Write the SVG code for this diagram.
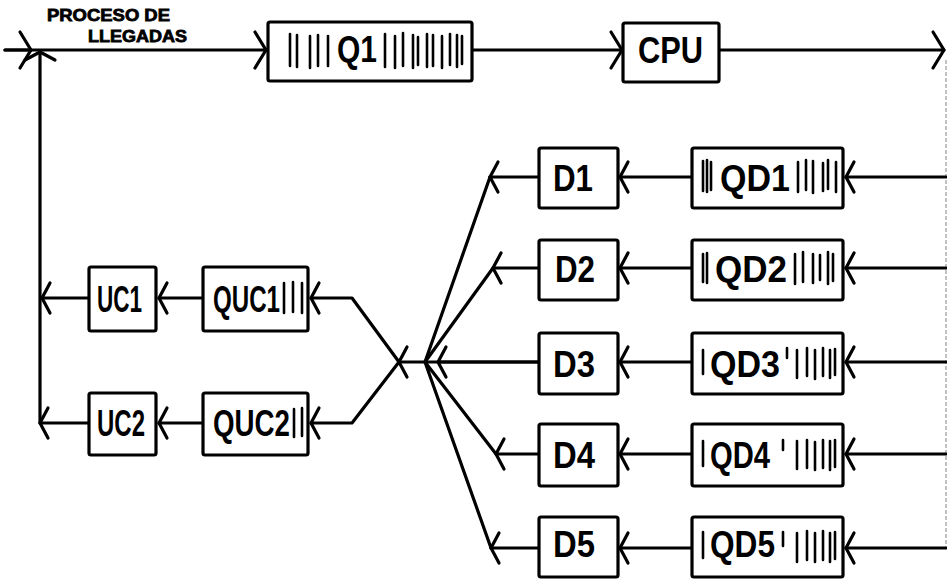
<svg xmlns="http://www.w3.org/2000/svg" width="947" height="579" viewBox="0 0 947 579">
<defs>
<style>
.c{fill:none;stroke:#000;stroke-width:3.2;stroke-linecap:round;stroke-linejoin:round}
.box{fill:#fff;stroke:#000;stroke-width:3.2}
.bar{fill:none;stroke:#000;stroke-width:2.6;stroke-linecap:round}
.t{font-family:"Liberation Sans",Arial,sans-serif;font-weight:bold;font-size:36px;fill:#000}
.s{font-family:"Liberation Sans",Arial,sans-serif;font-weight:900;font-size:17px;fill:#000;stroke:#000;stroke-width:0.8}
.edge{fill:none;stroke:#999;stroke-width:1.2;stroke-dasharray:4 2}
</style>
<marker id="a" markerUnits="userSpaceOnUse" orient="auto" refX="0" refY="0" markerWidth="30" markerHeight="40" viewBox="-14 -20 18 40" overflow="visible">
<path d="M-8,-15 L0,0 L-8,15" fill="none" stroke="#000" stroke-width="3.2" stroke-linecap="round" stroke-linejoin="round"/>
</marker>
<marker id="b" markerUnits="userSpaceOnUse" orient="auto" refX="0" refY="0" markerWidth="30" markerHeight="44" viewBox="-14 -22 18 44" overflow="visible">
<path d="M-11,-18 L0,0 L-11,18" fill="none" stroke="#000" stroke-width="3.2" stroke-linecap="round" stroke-linejoin="round"/>
</marker>
</defs>
<rect width="947" height="579" fill="#fff"/>

<g id="connectors">
<path class="c" d="M5,50 H266" marker-end="url(#b)"/>
<path class="c" d="M5,50 H31" marker-end="url(#b)"/>
<path class="c" d="M40,422 V52" marker-end="url(#a)"/>
<path class="c" d="M472,50 H622" marker-end="url(#b)"/>
<path class="c" d="M719,50 H944" marker-end="url(#b)"/>
<path class="edge" d="M946,60 V548"/>
<path class="c" d="M946,177 H846" marker-end="url(#a)"/>
<path class="c" d="M946,268 H846" marker-end="url(#a)"/>
<path class="c" d="M946,362 H846" marker-end="url(#a)"/>
<path class="c" d="M946,454 H846" marker-end="url(#a)"/>
<path class="c" d="M946,548 H846" marker-end="url(#a)"/>
<path class="c" d="M692,177 H620" marker-end="url(#a)"/>
<path class="c" d="M692,268 H620" marker-end="url(#a)"/>
<path class="c" d="M692,362 H620" marker-end="url(#a)"/>
<path class="c" d="M692,454 H620" marker-end="url(#a)"/>
<path class="c" d="M692,548 H620" marker-end="url(#a)"/>
<path class="c" d="M539,177 H490" marker-end="url(#a)"/>
<path class="c" d="M490,177 L425,362"/>
<path class="c" d="M539,268 H493" marker-end="url(#a)"/>
<path class="c" d="M493,268 L425,362"/>
<path class="c" d="M539,362 H425"/>
<path class="c" d="M539,362 H438" marker-end="url(#a)"/>
<path class="c" d="M539,454 H496" marker-end="url(#a)"/>
<path class="c" d="M496,454 L425,362"/>
<path class="c" d="M539,548 H491" marker-end="url(#a)"/>
<path class="c" d="M491,548 L425,362"/>
<path class="c" d="M425,362 H399" marker-end="url(#a)"/>
<path class="c" d="M399,362 L352,298 H311" marker-end="url(#a)"/>
<path class="c" d="M399,362 L352,423 H311" marker-end="url(#a)"/>
<path class="c" d="M203,298 H159" marker-end="url(#a)"/>
<path class="c" d="M89,298 H42" marker-end="url(#a)"/>
<path class="c" d="M203,423 H159" marker-end="url(#a)"/>
<path class="c" d="M89,423 H40" marker-end="url(#a)"/>
</g>

<g id="label-llegadas">
<text class="s" x="47" y="21" textLength="123" lengthAdjust="spacingAndGlyphs">PROCESO DE</text>
<text class="s" x="88" y="42" textLength="99" lengthAdjust="spacingAndGlyphs">LLEGADAS</text>
</g>

<g id="Q1">
<rect class="box" x="268" y="22" width="204" height="59" rx="2"/>
<path class="bar" d="M290,34V66 M297,35V67 M310,36V68 M318,35V66 M328,36V66 M385,34V67 M395,36V68 M403,33V66 M413,35V68 M418,37V65 M427,34V67 M433,35V66 M442,36V68 M450,34V65 M457,35V67 M462,36V64"/>
<text class="t" x="337" y="62" font-size="30" textLength="40" lengthAdjust="spacingAndGlyphs">Q1</text>
</g>

<g id="CPU">
<rect class="box" x="623" y="23" width="96" height="59" rx="2"/>
<text class="t" x="638" y="63" textLength="65" lengthAdjust="spacingAndGlyphs">CPU</text>
</g>

<g id="QD1">
<rect class="box" x="692" y="148" width="151" height="60" rx="2"/>
<path class="bar" d="M703,161V191 M707,160V192 M711,162V190 M798,162V192 M806,160V190 M813,161V193 M823,163V191 M828,160V189 M836,162V192"/>
<text class="t" x="720" y="191" textLength="70" lengthAdjust="spacingAndGlyphs">QD1</text>
</g>
<g id="D1">
<rect class="box" x="539" y="148" width="79" height="60" rx="2"/>
<text class="t" x="553" y="191" textLength="40" lengthAdjust="spacingAndGlyphs">D1</text>
</g>

<g id="QD2">
<rect class="box" x="692" y="240" width="151" height="60" rx="2"/>
<path class="bar" d="M703,254V282 M707,253V283 M795,254V284 M803,252V282 M813,254V283 M820,255V280 M828,252V284 M833,254V281"/>
<text class="t" x="715" y="282" textLength="72" lengthAdjust="spacingAndGlyphs">QD2</text>
</g>
<g id="D2">
<rect class="box" x="539" y="240" width="79" height="60" rx="2"/>
<text class="t" x="555" y="282" textLength="40" lengthAdjust="spacingAndGlyphs">D2</text>
</g>

<g id="QD3">
<rect class="box" x="692" y="333" width="151" height="61" rx="2"/>
<path class="bar" d="M703,350V374 M787,348V358 M797,350V378 M807,348V376 M815,350V379 M823,348V376 M830,350V378 M835,349V375"/>
<text class="t" x="710" y="377" textLength="70" lengthAdjust="spacingAndGlyphs">QD3</text>
</g>
<g id="D3">
<rect class="box" x="539" y="333" width="79" height="61" rx="2"/>
<text class="t" x="553" y="377" textLength="42" lengthAdjust="spacingAndGlyphs">D3</text>
</g>

<g id="QD4">
<rect class="box" x="692" y="424" width="151" height="62" rx="2"/>
<path class="bar" d="M703,441V466 M783,440V450 M797,441V469 M807,440V468 M815,442V470 M823,440V468 M830,441V470 M835,440V467"/>
<text class="t" x="710" y="468" textLength="60" lengthAdjust="spacingAndGlyphs">QD4</text>
</g>
<g id="D4">
<rect class="box" x="539" y="424" width="79" height="62" rx="2"/>
<text class="t" x="553" y="468" textLength="42" lengthAdjust="spacingAndGlyphs">D4</text>
</g>

<g id="QD5">
<rect class="box" x="692" y="517" width="151" height="60" rx="2"/>
<path class="bar" d="M703,532V558 M783,532V546 M797,533V562 M807,531V560 M815,533V562 M823,531V560 M830,533V562 M835,532V559"/>
<text class="t" x="710" y="557" textLength="65" lengthAdjust="spacingAndGlyphs">QD5</text>
</g>
<g id="D5">
<rect class="box" x="539" y="517" width="79" height="60" rx="2"/>
<text class="t" x="553" y="557" textLength="42" lengthAdjust="spacingAndGlyphs">D5</text>
</g>

<g id="QUC1">
<rect class="box" x="203" y="267" width="105" height="64" rx="2"/>
<path class="bar" d="M284,283V313 M293,282V312 M302,283V313"/>
<text class="t" x="213" y="312" textLength="67" lengthAdjust="spacingAndGlyphs">QUC1</text>
</g>
<g id="UC1">
<rect class="box" x="89" y="267" width="67" height="64" rx="2"/>
<text class="t" x="97" y="312" textLength="45" lengthAdjust="spacingAndGlyphs">UC1</text>
</g>

<g id="QUC2">
<rect class="box" x="203" y="393" width="105" height="62" rx="2"/>
<path class="bar" d="M294,409V437 M302,408V436"/>
<text class="t" x="213" y="436" textLength="77" lengthAdjust="spacingAndGlyphs">QUC2</text>
</g>
<g id="UC2">
<rect class="box" x="89" y="393" width="67" height="62" rx="2"/>
<text class="t" x="97" y="436" textLength="48" lengthAdjust="spacingAndGlyphs">UC2</text>
</g>
</svg>
